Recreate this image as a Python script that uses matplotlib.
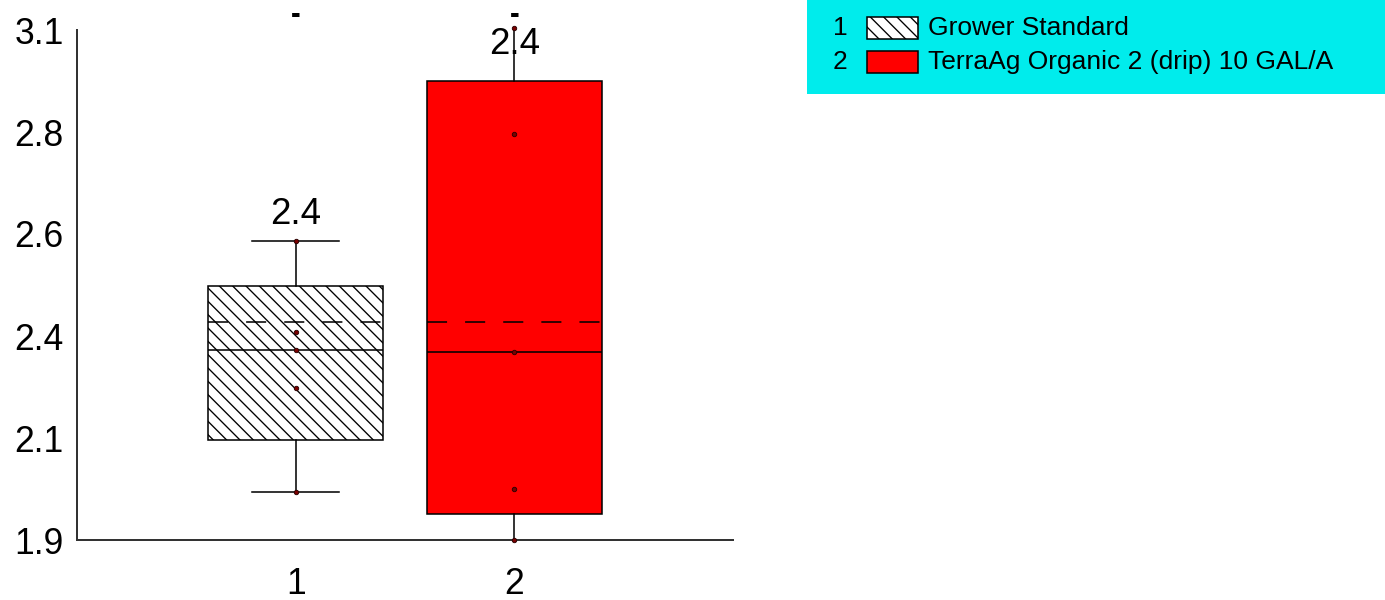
import matplotlib
matplotlib.use("Agg")
import matplotlib.pyplot as plt
from matplotlib.patches import Rectangle

plt.rcParams['font.family'] = ['Liberation Sans', 'DejaVu Sans']
plt.rcParams['hatch.linewidth'] = 0.6

# treatment groups
groups = [1, 2]
names = ["Grower Standard", "TerraAg Organic 2 (drip) 10 GAL/A"]
box_colors = ["white", "#ff0000"]
box_hatch = ["\\\\\\\\", None]

# box statistics per group
q1 = [2.115, 1.941]
med = [2.327, 2.323]
q3 = [2.478, 2.959]
whislo = [1.992, 1.880]
whishi = [2.583, 3.083]
means = [2.393, 2.393]

# individual observations
obs = [
    [2.583, 2.369, 2.326, 2.237, 1.992],
    [3.085, 2.835, 2.323, 2.001, 1.880],
]

# where the mean labels and the letters sit
mean_label_y = [2.645, 3.047]
letters = ["-", "-"]

yticks = [1.88, 2.12, 2.36, 2.60, 2.84, 3.08]

DPI = 160
fig = plt.figure(figsize=(1385 / DPI, 600 / DPI), dpi=DPI)
ax = fig.add_axes([77 / 1385, 60 / 600, 656 / 1385, 510 / 600])

stats = []
for i in range(len(groups)):
    stats.append(dict(med=med[i], q1=q1[i], q3=q3[i], whislo=whislo[i],
                      whishi=whishi[i], mean=means[i], fliers=[]))

lw = 0.7
bp = ax.bxp(stats, positions=groups, widths=0.8, capwidths=0.4,
            patch_artist=True, showmeans=True, meanline=True, showfliers=False,
            boxprops=dict(edgecolor="black", linewidth=lw),
            medianprops=dict(color="black", linewidth=lw),
            meanprops=dict(color="black", linewidth=lw, linestyle=(0, (12.9, 11.6))),
            whiskerprops=dict(color="black", linewidth=lw),
            capprops=dict(color="black", linewidth=lw))

for patch, fc, h in zip(bp["boxes"], box_colors, box_hatch):
    patch.set_facecolor(fc)
    if h:
        patch.set_hatch(h)

for g, vals in zip(groups, obs):
    ax.plot([g] * len(vals), vals, "o", ms=2.0, mfc="#7a0000", mec="#2a0000",
            mew=0.4, zorder=5, clip_on=False)

for g, m, ly, let in zip(groups, means, mean_label_y, letters):
    ax.text(g, ly, f"{m:.1f}", ha="center", va="center", fontsize=16.5, zorder=6)
    # significance letter above the plot area
    ax.text(g, 3.097, let, ha="center", va="baseline", fontsize=13,
            fontweight="bold", clip_on=False)

ax.set_xlim(0, 3)
ax.set_ylim(1.88, 3.08)
ax.set_xticks(groups)
ax.set_xticklabels([str(g) for g in groups])
ax.set_yticks(yticks)
ax.set_yticklabels([f"{t:.1f}" for t in yticks])
ax.tick_params(axis="both", length=0, labelsize=16)
ax.tick_params(axis="x", pad=12)
ax.tick_params(axis="y", pad=6)
for side in ["top", "right"]:
    ax.spines[side].set_visible(False)
for side in ["left", "bottom"]:
    ax.spines[side].set_color("#333333")
    ax.spines[side].set_linewidth(0.9)

# key in the upper right corner
lg = fig.add_axes([807 / 1385, 1 - 94 / 600, 578 / 1385, 94 / 600])
lg.set_xlim(0, 578)
lg.set_ylim(94, 0)
lg.set_facecolor("#00ecec")
lg.set_xticks([])
lg.set_yticks([])
for s in lg.spines.values():
    s.set_visible(False)
row_y = [28, 62]
for g, name, fc, h, y in zip(groups, names, box_colors, box_hatch, row_y):
    lg.text(33, y, str(g), ha="center", va="center", fontsize=11.9)
    lg.add_patch(Rectangle((60, y - 11), 51, 22, facecolor=fc, hatch=h,
                           edgecolor="black", linewidth=0.7))
    lg.text(121, y, name, ha="left", va="center", fontsize=11.9)

fig.savefig("out.png", dpi=DPI)
